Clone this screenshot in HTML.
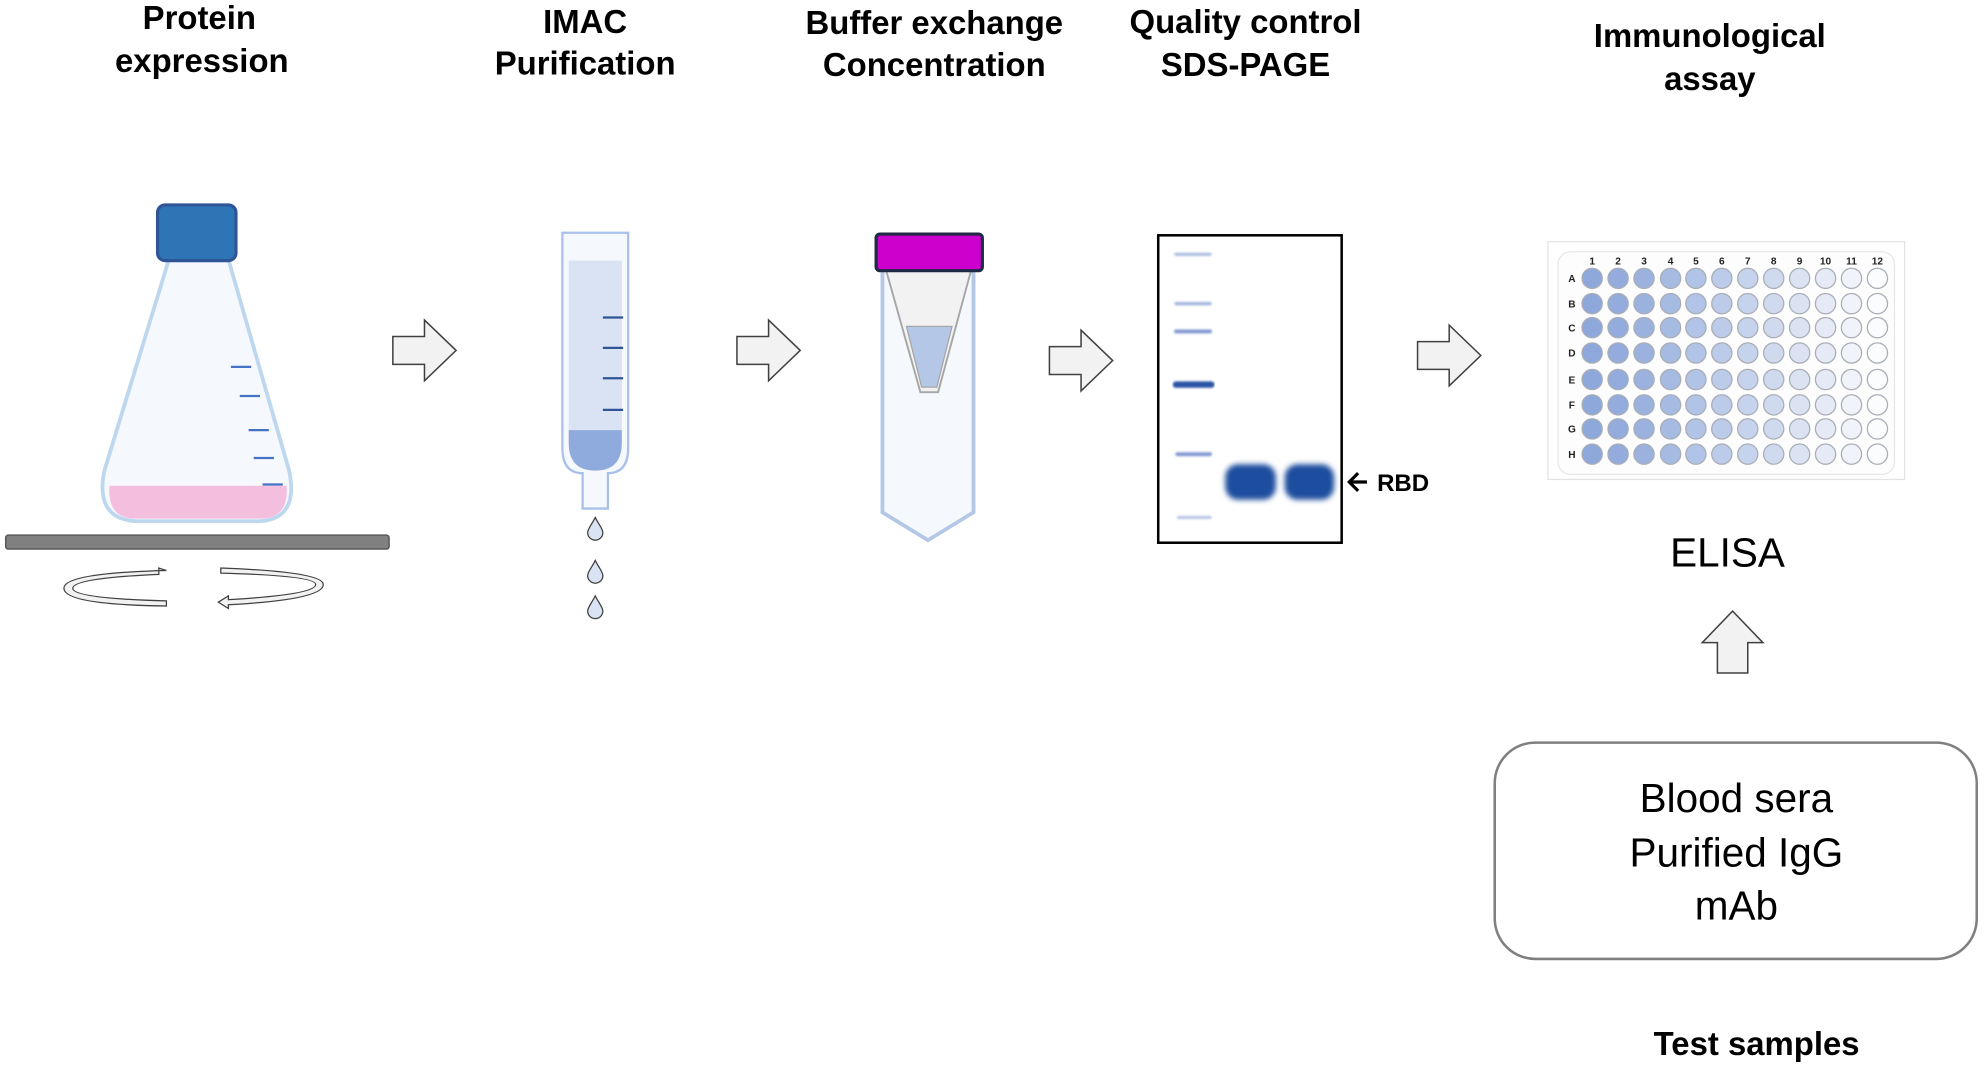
<!DOCTYPE html>
<html><head><meta charset="utf-8"><style>
html,body{margin:0;padding:0;background:#fff;width:1985px;height:1069px;overflow:hidden}
svg{display:block}
.t{font-family:"Liberation Sans",Arial,sans-serif;font-weight:bold;font-size:26px;fill:#000;text-anchor:middle}
.n{font-family:"Liberation Sans",Arial,sans-serif;font-size:32px;fill:#000;text-anchor:middle}
.s{font-family:"Liberation Sans",Arial,sans-serif;font-weight:bold;font-size:8px;fill:#222;text-anchor:middle}
</style></head><body>
<svg width="1985" height="1069" viewBox="0 0 1568 845" xmlns="http://www.w3.org/2000/svg">
<defs>
<filter id="bl" x="-20%" y="-50%" width="140%" height="200%"><feGaussianBlur stdDeviation="2"/></filter>
<filter id="bl1"><feGaussianBlur stdDeviation="0.8"/></filter>
<g id="col" stroke="#a9adb5" stroke-width="1">
<circle cx="0" cy="220" r="8"/><circle cx="0" cy="240" r="8"/><circle cx="0" cy="259" r="8"/><circle cx="0" cy="279" r="8"/>
<circle cx="0" cy="300" r="8"/><circle cx="0" cy="320" r="8"/><circle cx="0" cy="339" r="8"/><circle cx="0" cy="359" r="8"/>
</g>
<path id="rarr" d="M0,-11 H25 V-24 L50,0 L25,24 V11 H0 Z" fill="#f2f2f2" stroke="#404040" stroke-width="1.2"/>
<path id="drop" d="M0,-8 C-3,-2 -6,1 -6,4 A6,6 0 0 0 6,4 C6,1 3,-2 0,-8 Z" fill="#dae3f3" stroke="#404040" stroke-width="1"/>
</defs>

<text class="t" x="157" y="23">Protein</text>
<text class="t" x="159" y="57">expression</text>
<text class="t" x="462" y="26">IMAC</text>
<text class="t" x="462" y="59">Purification</text>
<text class="t" x="738" y="27">Buffer exchange</text>
<text class="t" x="738" y="60">Concentration</text>
<text class="t" x="984" y="26">Quality control</text>
<text class="t" x="984" y="60">SDS-PAGE</text>
<text class="t" x="1351" y="37">Immunological</text>
<text class="t" x="1351" y="71">assay</text>

<path d="M133,205 H180 L228,372 Q236,410 205,412 H107 Q74,410 82,372 Z" fill="#f5f8fd" stroke="#bdd7ee" stroke-width="3"/>
<path d="M86,384 H226 Q228,410 205,410 H107 Q84,410 86,384 Z" fill="#f4bfdf"/>
<rect x="124" y="162" width="62" height="44" rx="6" fill="#2e75b6" stroke="#2f5597" stroke-width="2.5"/>
<g stroke="#4472c4" stroke-width="1.8">
<line x1="182" y1="290" x2="198" y2="290"/><line x1="189" y1="313" x2="205" y2="313"/>
<line x1="196" y1="340" x2="212" y2="340"/><line x1="200" y1="362" x2="216" y2="362"/>
<line x1="207" y1="383" x2="223" y2="383"/>
</g>
<rect x="4" y="423" width="303" height="11" rx="2" fill="#808080" stroke="#595959" stroke-width="1.2"/>
<path d="M131,451 Q50,453 50,465 Q50,478 131,479 V475 Q57,473 57,465 Q57,457 125,454 V449 L131,451" fill="#f2f2f2" stroke="#404040" stroke-width="1"/>
<path d="M174,449 Q255,452 255,462 Q255,474 180,478 V481 L172,476 L180,471 V474 Q249,470 249,462 Q249,455 174,453 Z" fill="#f2f2f2" stroke="#404040" stroke-width="1"/>

<use href="#rarr" x="310" y="277"/>
<use href="#rarr" x="582" y="277"/>
<use href="#rarr" x="829" y="285"/>
<use href="#rarr" x="1120" y="281"/>
<path d="M1357,532 V508 H1345 L1369,483 L1393,508 H1381 V532 Z" fill="#f2f2f2" stroke="#404040" stroke-width="1.2"/>

<path d="M444,184 H496 V354 Q496,374 480,374 V402 H460 V374 Q444,374 444,354 Z" fill="#f5f8fd" stroke="#a9c1ea" stroke-width="1.8"/>
<rect x="449" y="206" width="42" height="134" fill="#dae3f3"/>
<path d="M449,340 H491 V350 Q491,372 470,372 Q449,372 449,350 Z" fill="#8faadc"/>
<g stroke="#2f5597" stroke-width="1.8">
<line x1="476" y1="251" x2="492" y2="251"/><line x1="476" y1="275" x2="492" y2="275"/>
<line x1="476" y1="299" x2="492" y2="299"/><line x1="476" y1="324" x2="492" y2="324"/>
</g>
<use href="#drop" x="470" y="417"/>
<use href="#drop" x="470" y="451"/>
<use href="#drop" x="470" y="479"/>

<path d="M697,212 H769 V405 L733,427 L697,405 Z" fill="#f5f8fd" stroke="#b4c7e7" stroke-width="3"/>
<path d="M700,214 H767 L741,310 H727 Z" fill="#f2f2f2" stroke="#a6a6a6" stroke-width="1.5"/>
<path d="M716,258 H752 L740,306 H728 Z" fill="#b4c7e7" stroke="#a6a6a6" stroke-width="1"/>
<rect x="692" y="185" width="84" height="29" rx="3" fill="#cc00cc" stroke="#1f2a44" stroke-width="2.5"/>

<rect x="915" y="186" width="145" height="243" fill="#fff" stroke="#000" stroke-width="2"/>
<g filter="url(#bl1)" stroke-linecap="round">
<line x1="929" y1="201" x2="956" y2="201" stroke="#a9bbe0" stroke-width="2.5"/>
<line x1="929" y1="240" x2="956" y2="240" stroke="#9fb3dd" stroke-width="2.5"/>
<line x1="929" y1="262" x2="956" y2="262" stroke="#8098d0" stroke-width="3"/>
<line x1="929" y1="304" x2="957" y2="304" stroke="#2a52a6" stroke-width="5"/>
<line x1="930" y1="359" x2="956" y2="359" stroke="#8098d0" stroke-width="3"/>
<line x1="931" y1="409" x2="956" y2="409" stroke="#b7c5e5" stroke-width="2.5"/>
</g>
<g filter="url(#bl)" fill="#1f4e9e">
<rect x="968" y="367" width="40" height="28" rx="10"/>
<rect x="1015" y="367" width="39" height="28" rx="10"/>
</g>
<path d="M1080,381 H1066 M1073,374 L1066,381 L1073,388" stroke="#000" stroke-width="2.5" fill="none"/>
<text x="1088" y="388" font-family="Liberation Sans,Arial,sans-serif" font-weight="bold" font-size="19">RBD</text>

<rect x="1223" y="191" width="282" height="188" fill="#fff" stroke="#e3e3e3" stroke-width="1"/>
<rect x="1231" y="199" width="266" height="176" rx="10" fill="#fdfdfe" stroke="#e6e8ec" stroke-width="1"/>
<use href="#col" x="1258" fill="#8ea8dc"/>
<use href="#col" x="1278.5" fill="#93acdd"/>
<use href="#col" x="1299" fill="#9bb2df"/>
<use href="#col" x="1320" fill="#a6bbe2"/>
<use href="#col" x="1340" fill="#b1c3e6"/>
<use href="#col" x="1360.5" fill="#bccbe9"/>
<use href="#col" x="1381" fill="#c6d3ec"/>
<use href="#col" x="1401.5" fill="#d0daef"/>
<use href="#col" x="1422" fill="#dbe3f3"/>
<use href="#col" x="1442.5" fill="#e5eaf6"/>
<use href="#col" x="1463" fill="#f0f3fa"/>
<use href="#col" x="1483.5" fill="#fbfcfe"/>
<g class="s">
<text x="1258" y="209">1</text><text x="1278.5" y="209">2</text><text x="1299" y="209">3</text><text x="1320" y="209">4</text>
<text x="1340" y="209">5</text><text x="1360.5" y="209">6</text><text x="1381" y="209">7</text><text x="1401.5" y="209">8</text>
<text x="1422" y="209">9</text><text x="1442.5" y="209">10</text><text x="1463" y="209">11</text><text x="1483.5" y="209">12</text>
<text x="1242" y="223">A</text><text x="1242" y="243">B</text><text x="1242" y="262">C</text><text x="1242" y="282">D</text>
<text x="1242" y="303">E</text><text x="1242" y="323">F</text><text x="1242" y="342">G</text><text x="1242" y="362">H</text>
</g>
<text class="n" x="1365" y="448">ELISA</text>

<rect x="1181" y="587" width="381" height="171" rx="32" fill="#fff" stroke="#808080" stroke-width="2"/>
<text class="n" x="1372" y="642">Blood sera</text>
<text class="n" x="1372" y="685">Purified IgG</text>
<text class="n" x="1372" y="727">mAb</text>
<text class="t" x="1388" y="834">Test samples</text>
</svg>
</body></html>
